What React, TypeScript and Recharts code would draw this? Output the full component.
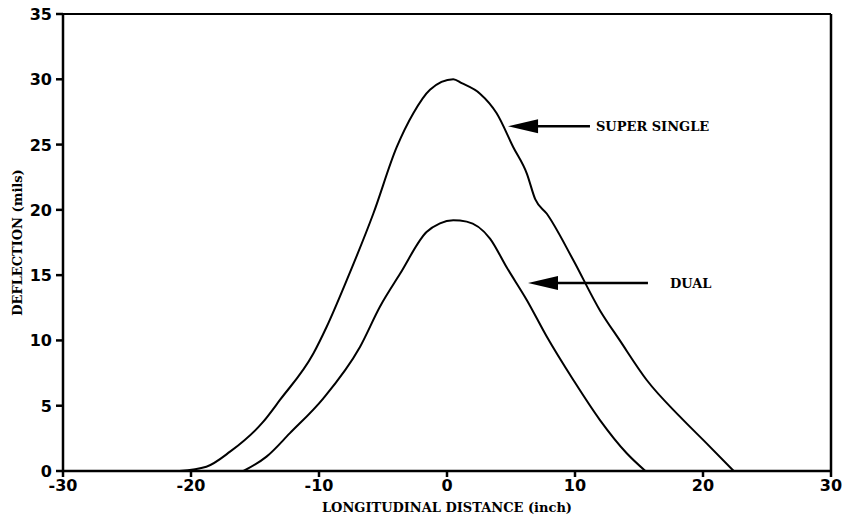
import { LineChart, Line, XAxis, YAxis, ReferenceLine, Label } from "recharts";

// super single tire deflection basin (mils vs inch)
const superX = [-20.9, -18.8, -16.95, -14.35, -13.05, -10.44, -9.4, -7.84, -5.76, -3.93, -2.63, -1.33, 0.49, 1.15, 2.58, 3.88, 5.18, 6.23, 6.9, 7.8, 9.84, 11.95, 13.5, 15.6, 18.2, 20.3, 22.4];
const superY = [0, 0.33, 1.48, 3.78, 5.44, 9.0, 11.05, 14.6, 19.7, 24.8, 27.4, 29.2, 30.0, 29.7, 28.9, 27.4, 24.8, 22.8, 20.8, 19.7, 16.2, 12.3, 10.0, 6.97, 4.16, 2.1, 0];

// dual tire deflection basin
const dualX = [-15.9, -14.1, -12.27, -9.66, -6.8, -5.23, -3.67, -1.6, -0.55, 0.49, 1.54, 3.36, 4.66, 6.23, 7.79, 9.87, 11.95, 14.04, 15.5];
const dualY = [0, 1.1, 2.9, 5.57, 9.5, 12.6, 15.1, 18.3, 18.97, 19.2, 19.1, 17.8, 15.6, 13.1, 10.3, 6.97, 3.9, 1.36, 0];

const xTicks = [-30, -20, -10, 0, 10, 20, 30];
const yTicks = [0, 5, 10, 15, 20, 25, 30, 35];

const superData = superX.map((x, i) => ({ x, y: superY[i] }));
const dualData = dualX.map((x, i) => ({ x, y: dualY[i] }));

const serif = "'DejaVu Serif', 'Liberation Serif', serif";
const sans = "'DejaVu Sans', 'Liberation Sans', sans-serif";

function Tick(props: any) {
  const { x, y, payload, textAnchor, axis } = props;
  return (
    <text
      x={x}
      y={y}
      dy={axis === "x" ? 12 : 6}
      textAnchor={textAnchor}
      fontFamily={sans}
      fontWeight="bold"
      fontSize={16}
      fill="#000"
    >
      {payload.value}
    </text>
  );
}

function Arrow(props: any) {
  const { x1, y1, x2, y2, text } = props;
  const left = Math.min(x1, x2);
  const right = Math.max(x1, x2);
  const y = y1;
  return (
    <g>
      <line x1={left + 20} y1={y} x2={right} y2={y2} stroke="#000" strokeWidth={2.5} />
      <polygon points={`${left},${y} ${left + 30},${y - 7} ${left + 30},${y + 7}`} fill="#000" />
      <text x={right + text.gap} y={y + 5} fontFamily={serif} fontWeight="bold" fontSize={13} fill="#000">
        {text.label}
      </text>
    </g>
  );
}

export default function App() {
  return (
    <div style={{ position: "absolute", left: 0, top: 0, background: "#fff" }}>
      <LineChart width={843} height={522} margin={{ top: 14, right: 12, bottom: 21, left: 0 }}>
        <XAxis
          type="number"
          dataKey="x"
          domain={[-30, 30]}
          ticks={xTicks}
          allowDuplicatedCategory={false}
          height={30}
          stroke="#000"
          strokeWidth={2.5}
          tickSize={6}
          tickMargin={2}
          tick={<Tick axis="x" />}
        >
          <Label
            value="LONGITUDINAL DISTANCE (inch)"
            position="bottom"
            offset={2}
            style={{ fill: "#000", fontSize: 13, fontWeight: "bold", fontFamily: serif }}
          />
        </XAxis>
        <YAxis
          type="number"
          domain={[0, 35]}
          ticks={yTicks}
          width={63}
          stroke="#000"
          strokeWidth={2.5}
          tickSize={7}
          tickMargin={4}
          tick={<Tick axis="y" />}
        >
          <Label
            value="DEFLECTION (mils)"
            angle={-90}
            position="insideLeft"
            offset={17}
            style={{ fill: "#000", fontSize: 13, fontWeight: "bold", fontFamily: serif, textAnchor: "middle" }}
          />
        </YAxis>
        <ReferenceLine y={35} stroke="#000" strokeWidth={2} />
        <ReferenceLine x={30} stroke="#000" strokeWidth={2.5} />
        <Line
          data={superData}
          dataKey="y"
          type="monotone"
          stroke="#000"
          strokeWidth={2}
          dot={false}
          isAnimationActive={false}
        />
        <Line
          data={dualData}
          dataKey="y"
          type="monotone"
          stroke="#000"
          strokeWidth={2}
          dot={false}
          isAnimationActive={false}
        />
        <ReferenceLine
          segment={[{ x: 4.77, y: 26.4 }, { x: 11.17, y: 26.4 }]}
          shape={(p: any) => <Arrow {...p} text={{ label: "SUPER SINGLE", gap: 6 }} />}
        />
        <ReferenceLine
          segment={[{ x: 6.33, y: 14.4 }, { x: 15.7, y: 14.4 }]}
          shape={(p: any) => <Arrow {...p} text={{ label: "DUAL", gap: 22 }} />}
        />
      </LineChart>
    </div>
  );
}
